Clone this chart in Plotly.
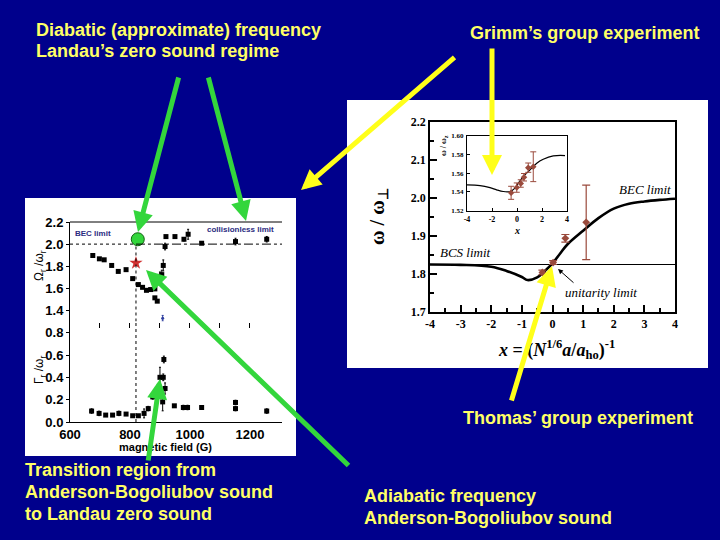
import plotly.graph_objects as go

W, H = 720, 540
def X(px): return px / W
def Y(py): return 1 - py / H

# ---------------- data ----------------
# Left chart (Thomas group): collective mode frequency and damping vs magnetic field
omega_field = [676, 698, 714, 739, 761, 787, 809, 828, 842, 855, 869, 883, 883, 891,
               900, 906, 911, 917, 920, 950, 980, 994, 1039, 1152, 1256]
omega_ratio = [1.897, 1.867, 1.858, 1.807, 1.753, 1.769, 1.688, 1.634, 1.609, 1.582,
               1.589, 1.595, 1.514, 1.484, 1.708, 1.724, 1.807, 1.978, 2.068, 2.068,
               2.044, 2.089, 2.008, 2.023, 2.044]
omega_err = [0.010, 0.008, 0.008, 0.010, 0.008, 0.008, 0.008, 0.010, 0.010, 0.010,
             0.008, 0.010, 0.012, 0.010, 0.040, 0.040, 0.050, 0.030, 0.010, 0.010,
             0.015, 0.045, 0.012, 0.030, 0.025]
gamma_field = [672, 697, 719, 742, 763, 787, 809, 828, 847, 861, 876, 891, 900, 909,
               911, 913, 917, 948, 978, 992, 1039, 1152, 1152, 1256]
gamma_ratio = [0.098, 0.077, 0.062, 0.062, 0.077, 0.071, 0.056, 0.056, 0.077, 0.120,
               0.225, 0.270, 0.400, 0.180, 0.400, 0.560, 0.300, 0.145, 0.130, 0.130,
               0.130, 0.175, 0.120, 0.098]
gamma_err = [0.02, 0.02, 0.01, 0.01, 0.02, 0.01, 0.01, 0.01, 0.04, 0.02, 0.02, 0.03,
             0.09, 0.08, 0.03, 0.03, 0.05, 0.01, 0.02, 0.02, 0.01, 0.02, 0.02, 0.02]
gap_field = [909]
gap_ratio = [1.33]
gap_err = [0.025]
bec_limit_left = 2.0
transition_field = 820
diabatic_point = [826, 2.044]
adiabatic_point = [820, 1.829]
left_xticks = [600, 800, 1000, 1200]
left_minor_ticks = [700, 800, 900, 1000, 1100, 1200]
left_top_yticks = [1.4, 1.6, 1.8, 2.0, 2.2]
left_bot_yticks = [0.0, 0.2, 0.4, 0.6, 0.8]

# Right chart (Grimm group): omega/omega_perp vs x
theory_x = [-4, -3, -2, -1.5, -1.0, -0.82, -0.5, -0.25, 0, 0.25, 0.5, 1.0, 1.5, 2.0,
            2.5, 3.0, 3.5, 4.0]
theory_y = [1.825, 1.824, 1.819, 1.808, 1.792, 1.784, 1.791, 1.808, 1.828, 1.854,
            1.879, 1.914, 1.947, 1.972, 1.985, 1.991, 1.995, 1.998]
bcs_limit = 1.825
grimm_x = [-0.33, 0.02, 0.42, 1.10]
grimm_y = [1.804, 1.830, 1.894, 1.936]
grimm_err = [0.006, 0.005, 0.010, 0.098]
right_xticks = [-4, -3, -2, -1, 0, 1, 2, 3, 4]
right_xlabels = ["-4", "-3", "-2", "-1", "0", "1", "2", "3", "4"]
right_yticks = [1.7, 1.8, 1.9, 2.0, 2.1, 2.2]

# Inset: omega/omega_z vs x
inset_theory_x = [-4, -2.96, -2.16, -1.63, -1.1, -0.56, -0.16, 0.1, 0.5, 1.04, 1.58,
                  2.1, 2.9, 3.84]
inset_theory_y = [1.5475, 1.5468, 1.5446, 1.5422, 1.5404, 1.5404, 1.544, 1.5493,
                  1.5564, 1.5636, 1.5708, 1.575, 1.5786, 1.579]
inset_x = [-0.47, -0.02, 0.30, 0.56, 0.90, 1.30]
inset_y = [1.539, 1.5446, 1.549, 1.5557, 1.566, 1.567]
inset_err = [0.007, 0.005, 0.004, 0.004, 0.005, 0.016]
inset_xticks = [-4, -2, 0, 2, 4]
inset_xlabels = ["-4", "-2", "0", "2", "4"]
inset_yticks = [1.52, 1.54, 1.56, 1.58, 1.60]

# ---------------- style ----------------
BG = "#00008C"
TXT = "#FFFF66"
GREEN = "#33D63C"
YELLOW = "#FFFF1A"
BROWN = "#9A4A3C"
SANS = "Liberation Sans, Arial, sans-serif"
SERIF = "Liberation Serif, Times New Roman, serif"

fig = go.Figure()

# left top panel
fig.add_trace(go.Scatter(x=omega_field, y=omega_ratio, mode="markers",
                         marker=dict(color="black", size=5, symbol="square"),
                         error_y=dict(type="data", array=omega_err, color="black",
                                      thickness=1, width=1),
                         xaxis="x", yaxis="y", cliponaxis=False, showlegend=False))
fig.add_trace(go.Scatter(x=gap_field, y=gap_ratio, mode="markers",
                         marker=dict(color="#3040A0", size=3),
                         error_y=dict(type="data", array=gap_err, color="#3040A0",
                                      thickness=1, width=1),
                         xaxis="x", yaxis="y", cliponaxis=False, showlegend=False))
fig.add_trace(go.Scatter(x=[diabatic_point[0]], y=[diabatic_point[1]], mode="markers",
                         marker=dict(color=GREEN, size=13,
                                     line=dict(color="#106010", width=1)),
                         xaxis="x", yaxis="y", cliponaxis=False, showlegend=False))
fig.add_trace(go.Scatter(x=[adiabatic_point[0]], y=[adiabatic_point[1]], mode="markers",
                         marker=dict(color="#D03030", size=10, symbol="star"),
                         xaxis="x", yaxis="y", cliponaxis=False, showlegend=False))
# left bottom panel
fig.add_trace(go.Scatter(x=gamma_field, y=gamma_ratio, mode="markers",
                         marker=dict(color="black", size=5, symbol="square"),
                         error_y=dict(type="data", array=gamma_err, color="black",
                                      thickness=1, width=1),
                         xaxis="x2", yaxis="y2", cliponaxis=False, showlegend=False))
# right main
fig.add_trace(go.Scatter(x=right_xticks[:1] + right_xticks[-1:], y=[bcs_limit, bcs_limit],
                         mode="lines", line=dict(color="black", width=1),
                         xaxis="x3", yaxis="y3", showlegend=False))
fig.add_trace(go.Scatter(x=theory_x, y=theory_y, mode="lines",
                         line=dict(color="black", width=2.6, shape="spline"),
                         xaxis="x3", yaxis="y3", showlegend=False))
fig.add_trace(go.Scatter(x=grimm_x, y=grimm_y, mode="markers",
                         marker=dict(color=BROWN, size=6, symbol="diamond"),
                         error_y=dict(type="data", array=grimm_err, color=BROWN,
                                      thickness=1.2, width=4),
                         xaxis="x3", yaxis="y3", showlegend=False))
# inset
fig.add_trace(go.Scatter(x=inset_theory_x, y=inset_theory_y, mode="lines",
                         line=dict(color="black", width=1.2, shape="spline"),
                         xaxis="x4", yaxis="y4", showlegend=False))
fig.add_trace(go.Scatter(x=inset_x, y=inset_y, mode="markers",
                         marker=dict(color=BROWN, size=5, symbol="diamond"),
                         error_y=dict(type="data", array=inset_err, color=BROWN,
                                      thickness=1, width=3),
                         xaxis="x4", yaxis="y4", showlegend=False))

tf_left = dict(family=SANS, size=13, color="black", weight="bold")
tf_right = dict(family=SERIF, size=12, color="black", weight="bold")
tf_inset = dict(family=SERIF, size=7, color="black", weight="bold")

left_xdom = [X(70), X(282)]
common = dict(automargin=False, showgrid=False, zeroline=False)
layout_axes = dict(
    xaxis=dict(domain=left_xdom, range=[600, 1307], anchor="y", showline=False,
               showticklabels=False, tickvals=left_minor_ticks, ticks="outside",
               ticklen=5, tickcolor="black", **common),
    yaxis=dict(domain=[Y(321.5), Y(222)], range=[1.3, 2.2], anchor="x",
               showline=True, linecolor="black", linewidth=1,
               tickvals=left_top_yticks, tickformat=".1f",
               ticks="outside", ticklen=3, tickcolor="black", tickfont=tf_left, **common),
    xaxis2=dict(domain=left_xdom, range=[600, 1307], anchor="y2", showline=True,
                linecolor="black", linewidth=1,
                tickvals=left_xticks, ticks="", tickfont=tf_left, ticklabelstandoff=0,
                **common),
    yaxis2=dict(domain=[Y(422), Y(321.5)], range=[0, 0.9], anchor="x2",
                showline=True, linecolor="black", linewidth=1,
                tickvals=left_bot_yticks, tickformat=".1f",
                ticks="outside", ticklen=3, tickcolor="black", tickfont=tf_left, **common),
    xaxis3=dict(domain=[X(430), X(675)], range=[-4, 4], anchor="y3", showline=True,
                mirror=True, linecolor="black", linewidth=1.5,
                tickvals=right_xticks, ticktext=right_xlabels, ticks="inside", ticklen=7,
                tickcolor="black", tickwidth=1.5, tickfont=tf_right,
                minor=dict(dtick=0.5, ticks="inside", ticklen=4, tickcolor="black"),
                **common),
    yaxis3=dict(domain=[Y(312), Y(122)], range=[1.7, 2.2], anchor="x3", showline=True,
                mirror=True, linecolor="black", linewidth=1.5,
                tickvals=right_yticks, tickformat=".1f",
                ticks="inside", ticklen=7, tickcolor="black", tickwidth=1.5,
                tickfont=tf_right,
                minor=dict(dtick=0.05, ticks="inside", ticklen=4, tickcolor="black"),
                **common),
    xaxis4=dict(domain=[X(467), X(567)], range=[-4, 4], anchor="y4", showline=True,
                mirror=True, linecolor="black", linewidth=1,
                tickvals=inset_xticks, ticktext=inset_xlabels, ticks="inside", ticklen=3,
                tickcolor="black", tickfont=dict(family=SERIF, size=8, color="black",
                                                 weight="bold"),
                ticklabelstandoff=1, **common),
    yaxis4=dict(domain=[Y(210.5), Y(136)], range=[1.52, 1.60], anchor="x4",
                showline=True, mirror=True, linecolor="black", linewidth=1,
                tickvals=inset_yticks,
                tickformat=".2f", ticks="inside", ticklen=3, tickcolor="black",
                tickfont=tf_inset, ticklabelstandoff=1, **common),
)

shapes = [
    dict(type="rect", xref="paper", yref="paper", x0=X(25), x1=X(296), y0=Y(456),
         y1=Y(198), fillcolor="white", line=dict(width=0), layer="below"),
    dict(type="rect", xref="paper", yref="paper", x0=X(347), x1=X(708), y0=Y(368),
         y1=Y(100), fillcolor="white", line=dict(width=0), layer="below"),
    # top border of left top panel
    dict(type="line", xref="x domain", yref="y domain", x0=0, x1=1, y0=1, y1=1,
         line=dict(color="black", width=1)),
    # BEC limit (2.0) reference line
    dict(type="line", xref="x", yref="y", x0=600, x1=transition_field,
         y0=bec_limit_left, y1=bec_limit_left, line=dict(color="black", width=1, dash="dot")),
    dict(type="line", xref="x", yref="y", x0=transition_field, x1=1307,
         y0=bec_limit_left, y1=bec_limit_left,
         line=dict(color="black", width=1, dash="dashdot")),
    # vertical transition line
    dict(type="line", xref="x", yref="y", x0=transition_field, x1=transition_field,
         y0=1.3, y1=bec_limit_left, line=dict(color="black", width=1, dash="dot")),
    dict(type="line", xref="x2", yref="y2", x0=transition_field, x1=transition_field,
         y0=0, y1=0.9, line=dict(color="black", width=1, dash="dot")),
]

annotations = []
def label(px, py, text, size=18, color=TXT, family=SANS, weight="bold", xanchor="left",
          angle=0, italic=False):
    annotations.append(dict(xref="paper", yref="paper", x=X(px), y=Y(py), text=text,
                            showarrow=False, xanchor=xanchor, yanchor="middle",
                            textangle=angle,
                            font=dict(family=family, size=size, color=color,
                                      weight=weight,
                                      style="italic" if italic else "normal")))

def arrow(tail, head, color, width=5, size=0.8):
    annotations.append(dict(xref="paper", yref="paper", x=X(head[0]), y=Y(head[1]),
                            ax=tail[0] - head[0], ay=tail[1] - head[1], text="",
                            showarrow=True, arrowhead=2, arrowsize=size,
                            arrowwidth=width, arrowcolor=color, standoff=0))

# slide texts
label(34, 30, "Diabatic (approximate) frequency")
label(34, 51, "Landau’s zero sound regime")
label(468, 33, "Grimm’s group experiment")
label(461, 418, "Thomas’ group experiment")
label(23, 470, "Transition region from")
label(23, 492, "Anderson-Bogoliubov sound")
label(23, 514, "to Landau zero sound")
label(362, 496, "Adiabatic frequency")
label(362, 518, "Anderson-Bogoliubov sound")

# left chart texts
label(73, 233, "BEC limit", size=8, color="#2B2B7F")
label(205, 229, "collisionless limit", size=8, color="#2B2B7F")
label(165, 447, "magnetic field (G)", size=11, color="black", xanchor="center")
label(40, 266, "Ω<sub>r</sub> /ω<sub>r</sub>", size=12, color="black",
      xanchor="center", angle=-90, weight="normal")
label(40, 370, "Γ<sub>r</sub> /ω<sub>r</sub>", size=12, color="black",
      xanchor="center", angle=-90, weight="normal")

# right chart texts
label(378, 217, "ω / ω<sub>⊥</sub>", size=20, color="black", family=SERIF,
      xanchor="center", angle=-90)
label(556, 349, "<i>x</i> = (<i>N</i><sup>1/6</sup><i>a</i>/<i>a</i><sub>ho</sub>)<sup>-1</sup>",
      size=18, color="black", family=SERIF, xanchor="center")
label(438, 252, "BCS limit", size=13, color="black", family=SERIF, weight="normal",
      italic=True)
label(617, 189, "BEC limit", size=13, color="black", family=SERIF, weight="normal",
      italic=True)
label(563, 292, "unitarity limit", size=13, color="black", family=SERIF,
      weight="normal", italic=True)
label(444, 146, "ω / ω<sub>z</sub>", size=8, color="black", family=SERIF,
      xanchor="center", angle=-90)
label(517, 230, "<i>x</i>", size=10, color="black", family=SERIF, xanchor="center")

# small black arrow to unitarity point
arrow((575, 284), (558, 269), "black", width=1, size=1)

# green arrows
arrow((179, 76), (138, 232), GREEN)
arrow((208, 76), (246, 221), GREEN)
arrow((350, 467), (146, 270), GREEN)
arrow((148, 462), (160, 379), GREEN)
# yellow arrows
arrow((492, 47), (492, 175), YELLOW)
arrow((456, 56), (301, 190), YELLOW)
arrow((511, 402), (552, 266), YELLOW)

fig.update_layout(template="none", width=W, height=H, autosize=False,
                  margin=dict(l=0, r=0, t=0, b=0, pad=0),
                  paper_bgcolor=BG, plot_bgcolor="rgba(0,0,0,0)",
                  showlegend=False, shapes=shapes, annotations=annotations,
                  **layout_axes)

fig.write_html("out.html", config={"displayModeBar": False},
               post_script="document.body.style.margin='0px';"
                           "document.body.style.overflow='hidden';"
                           "document.body.style.background='" + BG + "';")
